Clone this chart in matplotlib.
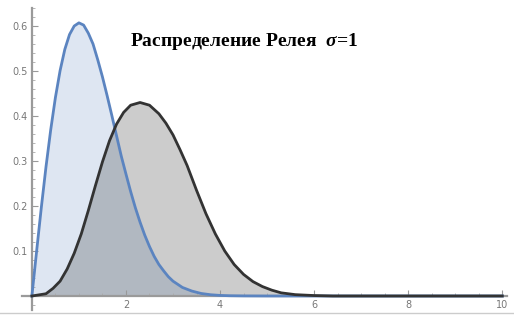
import numpy as np
import matplotlib.pyplot as plt
from matplotlib.ticker import MultipleLocator

plt.rcParams['mathtext.fontset'] = 'custom'
plt.rcParams['mathtext.it'] = 'Liberation Serif:italic:bold'
plt.rcParams['mathtext.rm'] = 'Liberation Serif:bold'

# Rayleigh density, sigma = 1
rayleigh_x = [0, 0.1, 0.2, 0.3, 0.4, 0.5, 0.6, 0.7, 0.8, 0.9, 1.0, 1.1, 1.2, 1.3,
              1.4, 1.5, 1.6, 1.7, 1.8, 1.9, 2.0, 2.1, 2.2, 2.3, 2.4, 2.5, 2.6,
              2.7, 2.8, 2.9, 3.0, 3.2, 3.4, 3.6, 3.8, 4.0, 4.2, 4.5, 5.0, 10.0]
rayleigh_y = [0, 0.099, 0.196, 0.287, 0.369, 0.441, 0.501, 0.548, 0.581, 0.600,
              0.607, 0.602, 0.584, 0.560, 0.525, 0.487, 0.445, 0.401, 0.356,
              0.311, 0.271, 0.232, 0.196, 0.164, 0.135, 0.110, 0.088, 0.070,
              0.056, 0.043, 0.033, 0.019, 0.011, 0.0056, 0.0028, 0.0013,
              0.0006, 0.0002, 0, 0]

# shifted curve (grey)
shifted_x = [0, 0.3, 0.45, 0.6, 0.75, 0.9, 1.05, 1.2, 1.35, 1.5, 1.65, 1.8,
             1.95, 2.1, 2.3, 2.5, 2.7, 2.85, 3.0, 3.15, 3.3, 3.5, 3.7, 3.9,
             4.1, 4.3, 4.5, 4.7, 4.9, 5.1, 5.3, 5.6, 6.0, 6.4, 10.0]
shifted_y = [0, 0.005, 0.017, 0.033, 0.06, 0.095, 0.138, 0.19, 0.245, 0.298,
             0.345, 0.382, 0.408, 0.424, 0.43, 0.424, 0.405, 0.384, 0.358,
             0.325, 0.29, 0.235, 0.183, 0.138, 0.1, 0.07, 0.048, 0.032, 0.021,
             0.013, 0.007, 0.003, 0.001, 0, 0]

title = 'Распределение Релея  $\\sigma$=1'

fig = plt.figure(figsize=(5.14, 3.24), dpi=100)
ax = fig.add_axes([22 / 514, 14.5 / 324, 485 / 514, 301.5 / 324])

blue = '#5b84c0'
ax.fill_between(rayleigh_x, rayleigh_y, 0, color=blue, alpha=0.2, lw=0, zorder=1)
ax.fill_between(shifted_x, shifted_y, 0, color='black', alpha=0.2, lw=0, zorder=1)
ax.plot(rayleigh_x, rayleigh_y, color=blue, lw=2, zorder=3,
        solid_joinstyle='round')
ax.plot(shifted_x, shifted_y, color='#333333', lw=2, zorder=3,
        solid_joinstyle='round')

ax.set_xlim(-0.21, 10.1)
ax.set_ylim(-0.03, 0.64)

for side in ['top', 'right']:
    ax.spines[side].set_visible(False)
for side in ['left', 'bottom']:
    ax.spines[side].set_position(('data', 0))
    ax.spines[side].set_color('#9a9a9a')
    ax.spines[side].set_linewidth(1.6)

ax.set_xticks([2, 4, 6, 8, 10])
ax.set_yticks([0.1, 0.2, 0.3, 0.4, 0.5, 0.6])
ax.set_yticklabels(['0.1', '0.2', '0.3', '0.4', '0.5', '0.6'])
ax.xaxis.set_minor_locator(MultipleLocator(0.5))
ax.yaxis.set_minor_locator(MultipleLocator(0.02))
ax.tick_params(which='major', direction='in', length=4, width=0.8,
               color='#999999', labelcolor='#777777', labelsize=7, pad=3)
ax.tick_params(which='minor', direction='in', length=2, width=0.6,
               color='#aaaaaa')

ax.text(0.2227, 0.874, title, transform=ax.transAxes, fontsize=14,
        family='Liberation Serif', weight='bold', color='black',
        va='baseline')

# separator line at the bottom edge
fig.add_artist(plt.Line2D([0, 1], [11 / 324, 11 / 324], color='#cccccc', lw=1))

fig.savefig('out.png', dpi=100)
